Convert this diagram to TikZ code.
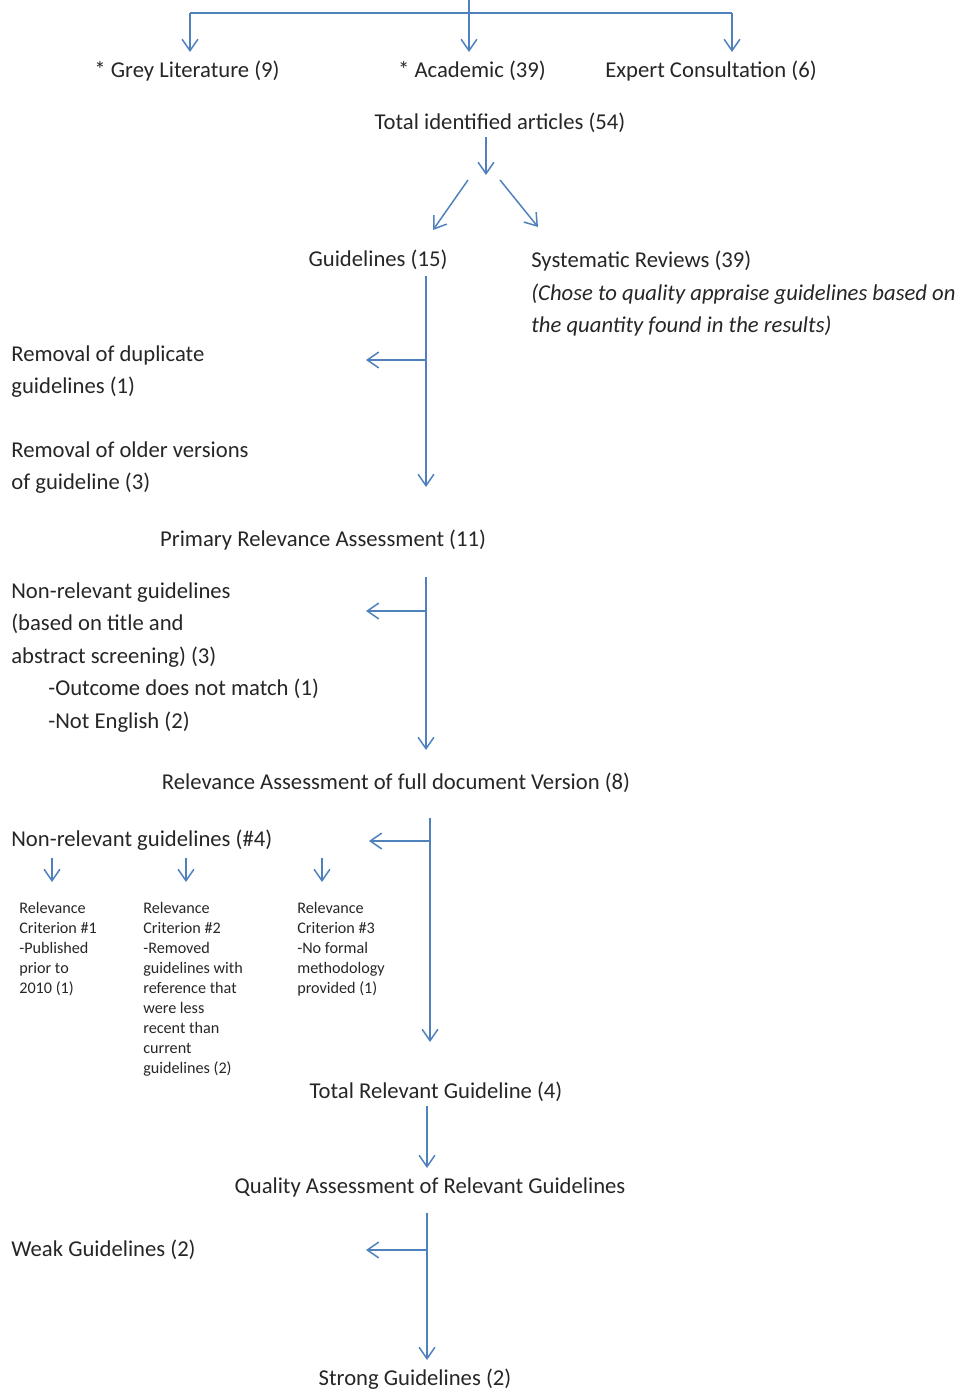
\documentclass[tikz,border=0pt]{standalone}
\usepackage{fontspec}
\setmainfont{Carlito}
\usetikzlibrary{arrows.meta}
\definecolor{flowblue}{HTML}{4F81BD}
\definecolor{inkgrey}{HTML}{262626}
\tikzstyle{entry} = [inner sep=0pt, text=inkgrey, font=\fontsize{12.9}{18.5}\selectfont, align=left]
\tikzstyle{smallentry} = [inner sep=0pt, text=inkgrey, font=\fontsize{9.2}{11.4}\selectfont, align=left]
\tikzstyle{trunk} = [flowblue, line width=0.85pt]
\tikzstyle{arrow} = [trunk, -{Straight Barb[length=6.5pt,width=9pt]}]

\begin{document}
\begin{tikzpicture}[x=0.02cm, y=-0.02cm]
    \useasboundingbox (0,0) rectangle (961,1391);

    % sources
    \node (grey) [entry] at (187,71) {* Grey Literature (9)};
    \node (academic) [entry] at (472,71) {* Academic (39)};
    \node (expert) [entry] at (711,71) {Expert Consultation (6)};
    \node (total) [entry] at (500,123) {Total identified articles (54)};
    \node (guidelines) [entry] at (378,260) {Guidelines (15)};
    \node (reviews) [entry, anchor=north west] at (531,251) {Systematic Reviews (39)\\
        \textit{(Chose to quality appraise guidelines based on}\\
        \textit{the quantity found in the results)}};

    % screening
    \node (duplicate) [entry, anchor=north west] at (11,345) {Removal of duplicate\\guidelines (1)};
    \node (older) [entry, anchor=north west] at (11,441) {Removal of older versions\\of guideline (3)};
    \node (primary) [entry] at (323,540) {Primary Relevance Assessment (11)};
    \node (nonrelevant) [entry, anchor=north west] at (11,582) {Non-relevant guidelines\\
        (based on title and\\abstract screening) (3)\\
        \hspace*{0.74cm}-Outcome does not match (1)\\
        \hspace*{0.74cm}-Not English (2)};
    \node (fulldoc) [entry] at (396,783) {Relevance Assessment of full document Version (8)};
    \node (excluded) [entry, anchor=west] at (11,840) {Non-relevant guidelines (\#4)};
    \node (crit1) [smallentry, anchor=north west] at (19,902) {Relevance\\Criterion \#1\\-Published\\prior to\\2010 (1)};
    \node (crit2) [smallentry, anchor=north west] at (143,902) {Relevance\\Criterion \#2\\-Removed\\guidelines with\\reference that\\were less\\recent than\\current\\guidelines (2)};
    \node (crit3) [smallentry, anchor=north west] at (297,902) {Relevance\\Criterion \#3\\-No formal\\methodology\\provided (1)};
    \node (relevant) [entry] at (436,1092) {Total Relevant Guideline (4)};
    \node (quality) [entry] at (430,1187) {Quality Assessment of Relevant Guidelines};
    \node (weak) [entry, anchor=west] at (11,1250) {Weak Guidelines (2)};
    \node (strong) [entry] at (415,1379) {Strong Guidelines (2)};

    % connector ends
    \coordinate (src) at (469,0);
    \coordinate (hub) at (469,13);
    \coordinate (lefttop) at (190,13);
    \coordinate (righttop) at (732,13);
    \coordinate (totalout) at (486,137);
    \coordinate (totalin) at (486,175);

    \draw [trunk] (lefttop) -- (righttop);
    \draw [arrow] (src) -- (hub |- 0,52);
    \draw [arrow] (lefttop) -- (lefttop |- 0,52);
    \draw [arrow] (righttop) -- (righttop |- 0,52);
    \draw [arrow] (totalout) -- (totalin);
    \draw [arrow] (468,180) -- (433,230);
    \draw [arrow] (500,180) -- (538,227);

    % main column
    \draw [arrow] (426,276) coordinate (g1) -- (426,487);
    \draw [arrow] (g1 |- 0,360) -- (366,360);
    \draw [arrow] (426,577) coordinate (g2) -- (426,750);
    \draw [arrow] (g2 |- 0,611) -- (366,611);
    \draw [arrow] (430,818) coordinate (g3) -- (430,1042);
    \draw [arrow] (g3 |- 0,841) -- (369,841);
    \foreach \x in {52,186,322}
        \draw [arrow] (\x,858) -- (\x,882);
    \draw [arrow] (427,1106) -- (427,1168);
    \draw [arrow] (427,1213) coordinate (g4) -- (427,1360);
    \draw [arrow] (g4 |- 0,1250) -- (366,1250);
  \end{tikzpicture}
\end{document}
